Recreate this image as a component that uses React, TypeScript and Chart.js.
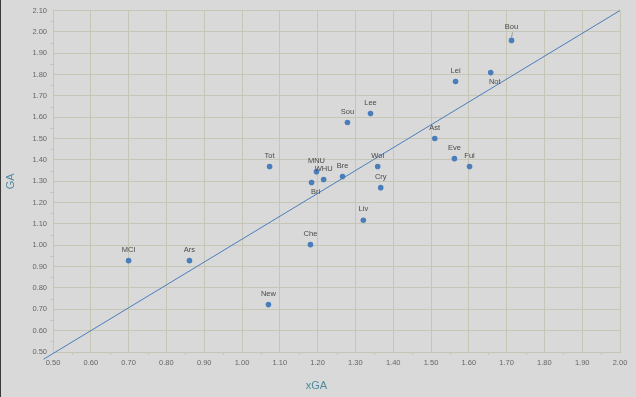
import React, { useEffect, useRef } from "react";
import { Chart, registerables } from "chart.js";

Chart.register(...registerables);

const teams = ["Bou", "Lei", "Not", "Sou", "Lee", "Ast", "Tot", "MNU", "WHU", "Bri", "Bre", "Wol", "Cry", "Eve", "Ful", "Liv", "MCI", "Ars", "Che", "New"];
const xGA = [1.713, 1.565, 1.658, 1.279, 1.340, 1.510, 1.073, 1.197, 1.216, 1.184, 1.266, 1.359, 1.367, 1.562, 1.602, 1.321, 0.700, 0.861, 1.181, 1.070];
const GA = [1.960, 1.767, 1.809, 1.575, 1.617, 1.500, 1.369, 1.345, 1.308, 1.294, 1.322, 1.369, 1.270, 1.406, 1.369, 1.117, 0.928, 0.928, 1.003, 0.722];
// label placement: "above", "below", "leader"
const labelPlace = ["leader", "above", "below", "above", "above", "above", "above", "above", "above", "below", "above", "above", "above", "above", "above", "above", "above", "above", "above", "above"];
const trendX = [0.475, 2.0];
const trendY = [0.466, 2.1];
const xTicks = { min: 0.5, max: 2.0, step: 0.1 };
const yTicks = { min: 0.5, max: 2.1, step: 0.1 };

const GRID = "#c6c6b6";
const TICK_COLOR = "#666666";
const TITLE_COLOR = "#4e8a9e";
const POINT = "#4a7ebb";
const FONT = "'Liberation Sans', Arial, sans-serif";

export default function App() {
  const ref = useRef<HTMLCanvasElement | null>(null);
  useEffect(() => {
    document.body.style.margin = "0";
    const canvas = ref.current!;
    const bgPlugin = {
      id: "bg",
      beforeDraw(chart: any) {
        const { ctx, width, height } = chart;
        ctx.save();
        ctx.fillStyle = "#d9d9d9";
        ctx.fillRect(0, 0, width, height);
        ctx.fillStyle = "#3a3a3a";
        ctx.fillRect(0, 0, 1, height);
        ctx.restore();
      },
    };
    const decoPlugin = {
      id: "deco",
      afterDraw(chart: any) {
        const { ctx, chartArea } = chart;
        const xs = chart.scales.x;
        const ys = chart.scales.y;
        ctx.save();
        ctx.strokeStyle = GRID;
        ctx.lineWidth = 1;
        ctx.beginPath();
        for (let v = xTicks.min + xTicks.step / 2; v < xTicks.max; v += xTicks.step) {
          const px = Math.round(xs.getPixelForValue(v)) + 0.5;
          ctx.moveTo(px, chartArea.bottom);
          ctx.lineTo(px, chartArea.bottom + 3);
        }
        for (let v = yTicks.min + yTicks.step / 2; v < yTicks.max; v += yTicks.step) {
          const py = Math.round(ys.getPixelForValue(v)) + 0.5;
          ctx.moveTo(chartArea.left, py);
          ctx.lineTo(chartArea.left - 3, py);
        }
        ctx.stroke();
        ctx.fillStyle = TITLE_COLOR;
        ctx.font = `11px ${FONT}`;
        ctx.textAlign = "center";
        ctx.textBaseline = "middle";
        ctx.fillText("xGA", (chartArea.left + chartArea.right) / 2 - 20, 386);
        ctx.translate(11, (chartArea.top + chartArea.bottom) / 2);
        ctx.rotate(-Math.PI / 2);
        ctx.fillText("GA", 0, 0);
        ctx.restore();
      },
      afterDatasetsDraw(chart: any) {
        const { ctx } = chart;
        const meta = chart.getDatasetMeta(1);
        ctx.save();
        ctx.font = `7.5px ${FONT}`;
        ctx.fillStyle = "#4a4a4a";
        ctx.textAlign = "center";
        ctx.textBaseline = "middle";
        meta.data.forEach((el: any, i: number) => {
          const p = labelPlace[i];
          let dx = 0, dy = -11;
          if (p === "below") { dx = 4; dy = 9; }
          if (p === "leader") { dy = -13; }
          ctx.fillText(teams[i], el.x + dx, el.y + dy);
          if (p === "leader") {
            ctx.strokeStyle = "#808080";
            ctx.lineWidth = 0.7;
            ctx.beginPath();
            ctx.moveTo(el.x + 1, el.y + dy + 5);
            ctx.lineTo(el.x, el.y - 3);
            ctx.stroke();
          }
        });
        ctx.restore();
      },
    };
    const chart = new Chart(canvas, {
      type: "scatter",
      data: {
        datasets: [
          {
            type: "line",
            data: trendX.map((x, i) => ({ x, y: trendY[i] })),
            borderColor: POINT,
            borderWidth: 1,
            pointRadius: 0,
            clip: false,
          } as any,
          {
            data: xGA.map((x, i) => ({ x, y: GA[i] })),
            backgroundColor: POINT,
            borderColor: POINT,
            pointRadius: 2.8,
            borderWidth: 0,
          },
        ],
      },
      options: {
        responsive: false,
        animation: false,
        layout: { padding: { left: 0, right: 16, top: 10, bottom: 0 } },
        plugins: { legend: { display: false }, tooltip: { enabled: false } },
        scales: {
          x: {
            type: "linear",
            min: xTicks.min,
            max: xTicks.max,
            afterFit: (s: any) => { s.height = 45; },
            ticks: {
              stepSize: xTicks.step,
              callback: (v: any) => Number(v).toFixed(2),
              font: { size: 7.5, family: FONT },
              color: TICK_COLOR,
              padding: 6,
              maxRotation: 0,
            },
            grid: { color: GRID, drawTicks: false },
            border: { color: GRID },
          },
          y: {
            type: "linear",
            min: yTicks.min,
            max: yTicks.max,
            afterFit: (s: any) => { s.width = 53; },
            ticks: {
              stepSize: yTicks.step,
              callback: (v: any) => Number(v).toFixed(2),
              font: { size: 7.5, family: FONT },
              color: TICK_COLOR,
              padding: 6,
            },
            grid: { color: GRID, drawTicks: false },
            border: { color: GRID },
          },
        },
      },
      plugins: [bgPlugin, decoPlugin],
    });
    return () => chart.destroy();
  }, []);
  return <canvas ref={ref} width={636} height={397} style={{ display: "block" }} />;
}
